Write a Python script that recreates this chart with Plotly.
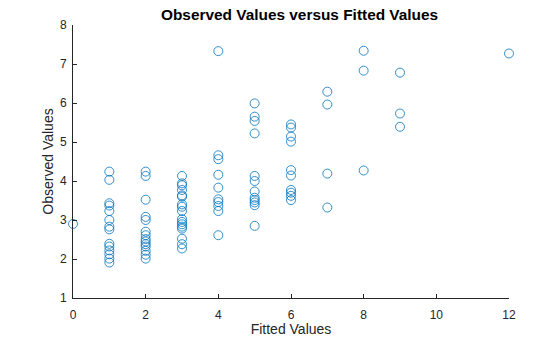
import plotly.graph_objects as go

fitted_0 = [0]
observed_0 = [2.90]
fitted_1 = [1] * 14
observed_1 = [4.24, 4.03, 3.43, 3.37, 3.23, 3.00, 2.83, 2.76, 2.39, 2.32, 2.22, 2.12, 2.01, 1.91]
fitted_2 = [2] * 14
observed_2 = [4.24, 4.13, 3.52, 3.08, 3.00, 2.70, 2.61, 2.51, 2.45, 2.38, 2.32, 2.21, 2.11, 2.01]
fitted_3 = [3] * 17
observed_3 = [4.13, 3.94, 3.89, 3.77, 3.63, 3.60, 3.40, 3.34, 3.23, 3.02, 2.95, 2.89, 2.83, 2.78, 2.52, 2.38, 2.27]
fitted_4 = [4] * 10
observed_4 = [7.33, 4.66, 4.56, 4.16, 3.83, 3.53, 3.46, 3.36, 3.23, 2.61]
fitted_5 = [5] * 12
observed_5 = [5.99, 5.65, 5.54, 5.22, 4.13, 4.00, 3.73, 3.57, 3.51, 3.45, 3.38, 2.85]
fitted_6 = [6] * 10
observed_6 = [5.45, 5.37, 5.14, 5.01, 4.28, 4.14, 3.77, 3.70, 3.62, 3.51]
fitted_7 = [7] * 4
observed_7 = [6.29, 5.96, 4.19, 3.32]
fitted_8 = [8] * 3
observed_8 = [7.34, 6.83, 4.27]
fitted_9 = [9] * 3
observed_9 = [6.78, 5.73, 5.39]
fitted_12 = [12]
observed_12 = [7.27]

fitted = (fitted_0 + fitted_1 + fitted_2 + fitted_3 + fitted_4 + fitted_5 +
          fitted_6 + fitted_7 + fitted_8 + fitted_9 + fitted_12)
observed = (observed_0 + observed_1 + observed_2 + observed_3 + observed_4 + observed_5 +
            observed_6 + observed_7 + observed_8 + observed_9 + observed_12)

x_ticks = [0, 2, 4, 6, 8, 10, 12]
y_ticks = [1, 2, 3, 4, 5, 6, 7, 8]

axis_color = "#262626"
font_family = "Liberation Sans, Arial, Helvetica, sans-serif"

fig = go.Figure()
fig.add_trace(go.Scatter(
    x=fitted, y=observed, mode="markers",
    marker=dict(symbol="circle-open", size=9, color="#0072BD",
                line=dict(width=0.8, color="#0072BD")),
    showlegend=False,
    cliponaxis=False,
))

fig.update_layout(
    width=560, height=337,
    margin=dict(l=73, r=51, t=25, b=39, autoexpand=False),
    paper_bgcolor="white", plot_bgcolor="white",
    font=dict(family=font_family, size=12, color=axis_color),
    title=dict(text="<b>Observed Values versus Fitted Values</b>",
               x=291 / 560, xanchor="center", xref="paper",
               y=1 - 15 / 337, yanchor="middle", yref="container",
               font=dict(size=15.4, color="#000000", family=font_family)),
)
fig.update_xaxes(
    range=[0, 12], tickvals=x_ticks, ticktext=[str(v) for v in x_ticks],
    showgrid=False, zeroline=False, showline=True, linecolor=axis_color, linewidth=1,
    ticks="inside", ticklen=4, tickcolor=axis_color, tickwidth=1,
    tickfont=dict(size=12, color=axis_color), ticklabelstandoff=6, automargin=False,
    title=dict(text="Fitted Values", font=dict(size=14, color=axis_color), standoff=2),
)
fig.update_yaxes(
    range=[1, 8], tickvals=y_ticks, ticktext=[str(v) for v in y_ticks],
    showgrid=False, zeroline=False, showline=True, linecolor=axis_color, linewidth=1,
    ticks="inside", ticklen=4, tickcolor=axis_color, tickwidth=1,
    tickfont=dict(size=12, color=axis_color), ticklabelstandoff=3, automargin=False,
    title=dict(text="Observed Values", font=dict(size=14, color=axis_color), standoff=3),
)

fig.write_html("out.html")
